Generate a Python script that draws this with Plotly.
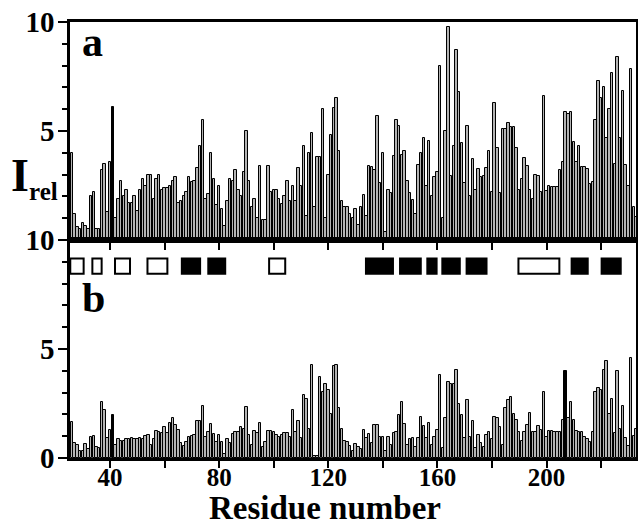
import plotly.graph_objects as go
from plotly.subplots import make_subplots

# residue numbers 26..233
residues = list(range(26, 234))

# panel a: relative intensities
i_rel_a = [
    4.0, 1.2, 0.6, 0.5, 0.8, 0.65, 0.5, 2.0, 2.2, 0.5,      # 26-35
    0.5, 3.2, 3.5, 1.3, 3.6, 6.1, 1.0, 1.9, 2.7, 2.0,       # 36-45
    2.3, 1.7, 1.7, 2.0, 1.35, 2.3, 2.8, 2.5, 3.0, 3.0,      # 46-55
    1.9, 2.8, 3.0, 2.3, 2.4, 2.4, 2.5, 2.7, 2.9, 1.7,       # 56-65
    1.8, 2.0, 2.2, 2.9, 2.65, 2.7, 3.3, 4.3, 5.5, 1.9,      # 66-75
    2.1, 4.0, 2.8, 1.6, 2.5, 1.4, 0.65, 1.8, 2.8, 2.7,      # 76-85
    3.2, 2.3, 2.0, 3.1, 5.0, 2.7, 1.5, 1.9, 1.0, 3.4,       # 86-95
    0.9, 0.9, 3.4, 2.2, 2.3, 2.3, 1.9, 1.65, 2.0, 2.7,      # 96-105
    1.8, 2.5, 1.8, 3.3, 2.5, 4.3, 1.1, 4.0, 4.9, 1.5,       # 106-115
    3.8, 3.8, 6.0, 1.0, 3.0, 4.8, 6.05, 6.5, 4.1, 1.8,      # 116-125
    1.5, 1.5, 1.2, 1.0, 1.4, 0.7, 1.5, 2.05, 1.1, 3.4,      # 126-135
    3.35, 3.2, 5.7, 2.6, 4.0, 0.35, 2.3, 2.15, 3.85, 5.5,   # 136-145
    5.25, 3.9, 4.1, 2.7, 2.15, 1.85, 1.2, 3.45, 4.0, 4.7,   # 146-155
    2.5, 4.55, 2.0, 2.9, 3.1, 8.0, 1.0, 5.0, 9.75, 2.95,    # 156-165
    4.3, 8.7, 6.8, 4.45, 2.6, 5.25, 2.0, 3.7, 2.3, 3.25,    # 166-175
    2.9, 2.95, 3.3, 4.1, 2.2, 6.3, 4.2, 2.15, 5.1, 5.1,     # 176-185
    5.35, 5.2, 5.2, 4.2, 2.3, 2.8, 3.75, 3.4, 2.3, 1.9,     # 186-195
    3.0, 2.95, 2.2, 6.6, 2.25, 2.5, 2.45, 2.45, 2.45, 3.2,  # 196-205
    3.6, 5.85, 5.8, 5.85, 4.5, 3.6, 4.3, 3.35, 3.35, 3.25,  # 206-215
    2.55, 2.65, 5.5, 7.3, 6.5, 7.0, 4.7, 6.0, 7.65, 3.5,    # 216-225
    8.4, 4.7, 6.85, 3.45, 2.5, 7.85, 1.5, 1.05,             # 226-233
]

# panel b: relative intensities
i_rel_b = [
    1.65, 0.7, 0.6, 0.3, 0.3, 0.65, 0.4, 0.95, 1.0, 0.5,    # 26-35
    0.45, 2.55, 2.2, 0.9, 1.3, 1.95, 0.6, 0.85, 0.8, 0.8,   # 36-45
    0.85, 0.85, 0.9, 0.85, 0.85, 0.92, 0.88, 1.0, 1.05, 0.6,  # 46-55
    0.85, 1.25, 1.2, 1.15, 1.4, 1.15, 1.6, 1.85, 1.5, 1.3,  # 56-65
    0.7, 0.55, 0.75, 0.95, 1.0, 1.05, 1.7, 1.7, 2.4, 0.95,  # 66-75
    1.2, 1.55, 1.1, 0.75, 1.05, 0.75, 0.2, 0.85, 0.7, 1.1,  # 76-85
    1.2, 1.2, 1.4, 1.35, 2.35, 1.05, 0.6, 1.25, 1.15, 1.6,  # 86-95
    0.5, 0.75, 1.25, 1.25, 1.2, 1.05, 0.95, 1.05, 1.15, 1.15,  # 96-105
    0.95, 2.2, 1.2, 1.7, 0.9, 2.9, 2.7, 1.35, 4.25, 0.1,    # 106-115
    0.1, 3.7, 3.05, 3.4, 3.1, 2.0, 4.2, 4.25, 2.3, 1.35,    # 116-125
    0.8, 0.75, 0.55, 0.3, 0.65, 0.5, 0.4, 1.3, 0.9, 1.1,    # 126-135
    0.7, 1.5, 1.5, 0.95, 0.95, 0.3, 0.95, 0.6, 1.15, 1.2,   # 136-145
    1.95, 2.55, 1.55, 0.6, 0.85, 0.9, 0.5, 0.9, 1.9, 1.45,  # 146-155
    0.9, 1.6, 0.6, 0.95, 1.3, 3.8, 0.45, 1.85, 3.5, 3.4,    # 156-165
    3.4, 4.05, 2.5, 1.95, 0.9, 2.65, 0.95, 1.7, 0.45, 1.05,  # 166-175
    0.7, 0.5, 1.05, 1.2, 0.85, 1.9, 1.85, 1.4, 0.6, 2.3,    # 176-185
    2.65, 2.8, 2.0, 1.75, 1.2, 0.8, 1.2, 1.5, 2.05, 1.2,    # 186-195
    1.2, 1.45, 1.3, 3.05, 0.95, 1.25, 1.25, 1.2, 1.2, 1.2,  # 196-205
    1.75, 4.0, 1.85, 2.55, 1.75, 1.25, 1.2, 1.2, 0.95, 0.85,  # 206-215
    0.75, 1.2, 3.05, 3.2, 3.1, 4.05, 4.45, 2.0, 2.7, 1.15,  # 216-225
    4.0, 1.35, 2.4, 0.9, 0.55, 4.6, 1.0, 1.35,              # 226-233
]

# residues drawn as solid black bars
dark_a = [41]
dark_b = [41, 207]

# secondary structure blocks (start, end residue)
open_blocks = [(25.4, 30.3), (33.5, 36.9), (41.8, 47.3), (53.7, 61.0),
               (98.3, 104.2), (189.7, 204.7)]
filled_blocks = [(66.3, 73.0), (76.0, 82.2), (133.8, 143.7), (146.3, 153.9),
                 (156.3, 159.7), (161.8, 168.2), (170.7, 178.0),
                 (209.2, 215.1), (220.2, 227.2)]

SERIF = "Liberation Serif"

fig = make_subplots(rows=2, cols=1, shared_xaxes=True, vertical_spacing=0)

for row, vals, dark in [(1, i_rel_a, dark_a), (2, i_rel_b, dark_b)]:
    colors = ['black' if r in dark else '#b4b4b4' for r in residues]
    fig.add_trace(go.Bar(
        x=residues, y=vals, width=0.9,
        marker=dict(color=colors, line=dict(color='black', width=1)),
        showlegend=False
    ), row=row, col=1)

# blocks above panel b
for x0, x1 in open_blocks:
    fig.add_shape(type="rect", x0=x0, x1=x1, y0=8.45, y1=9.15,
                  fillcolor="white", line=dict(color="black", width=2),
                  row=2, col=1)
for x0, x1 in filled_blocks:
    fig.add_shape(type="rect", x0=x0, x1=x1, y0=8.45, y1=9.15,
                  fillcolor="black", line=dict(color="black", width=2),
                  row=2, col=1)

tickfont_y = dict(family=SERIF, size=29, color="black", weight="bold")
tickfont_x = dict(family=SERIF, size=25, color="black", weight="bold")

xaxis_common = dict(
    range=[25.3, 232.8], showgrid=False, zeroline=False, automargin=False,
    showline=True, linecolor="black", linewidth=2.5, mirror=True,
    ticks="outside", tick0=40, dtick=40, ticklen=7, tickwidth=2,
    tickcolor="black",
    minor=dict(dtick=20, tick0=40, ticks="outside", ticklen=7, tickwidth=2, tickcolor="black"),
)
fig.update_xaxes(**xaxis_common, showticklabels=False, row=1, col=1)
fig.update_xaxes(**xaxis_common, showticklabels=True, tickfont=tickfont_x,
                 ticklabelstandoff=-12, row=2, col=1)

yaxis_common = dict(
    range=[0, 10], showgrid=False, zeroline=False, automargin=False,
    showline=True, linecolor="black", linewidth=2.5, mirror=True,
    ticks="outside", ticklen=9, tickwidth=2, tickcolor="black",
    tickfont=tickfont_y, ticklabelstandoff=-2,
    minor=dict(dtick=1, ticks="outside", ticklen=5, tickwidth=1.5, tickcolor="black"),
)
fig.update_yaxes(**yaxis_common, tickvals=[5, 10], ticktext=["5", "10"], row=1, col=1)
fig.update_yaxes(**yaxis_common, tickvals=[0, 5, 10], ticktext=["0", "5", "10"], row=2, col=1)

fig.update_layout(
    width=638, height=525,
    margin=dict(l=70, r=2, t=22, b=67),
    plot_bgcolor="white", paper_bgcolor="white",
    bargap=0,
    yaxis=dict(domain=[0.5, 1]),
    yaxis2=dict(domain=[0, 0.5]),
)

def label(text, x, y, size, **kw):
    fig.add_annotation(text=text, x=x, y=y, xref="paper", yref="paper",
                       showarrow=False, xanchor="center", yanchor="middle",
                       font=dict(family=SERIF, size=size, color="black", weight="bold"), **kw)

label("a", 0.039, 0.954, 42)
label("b", 0.041, 0.367, 42)
label("I", -0.0875, 0.648, 46)
label("rel", -0.0468, 0.612, 25)
label("Residue number", 0.45, -0.115, 33)

fig.write_html("out.html", config={"displayModeBar": False},
               post_script="document.body.style.margin='0';")
